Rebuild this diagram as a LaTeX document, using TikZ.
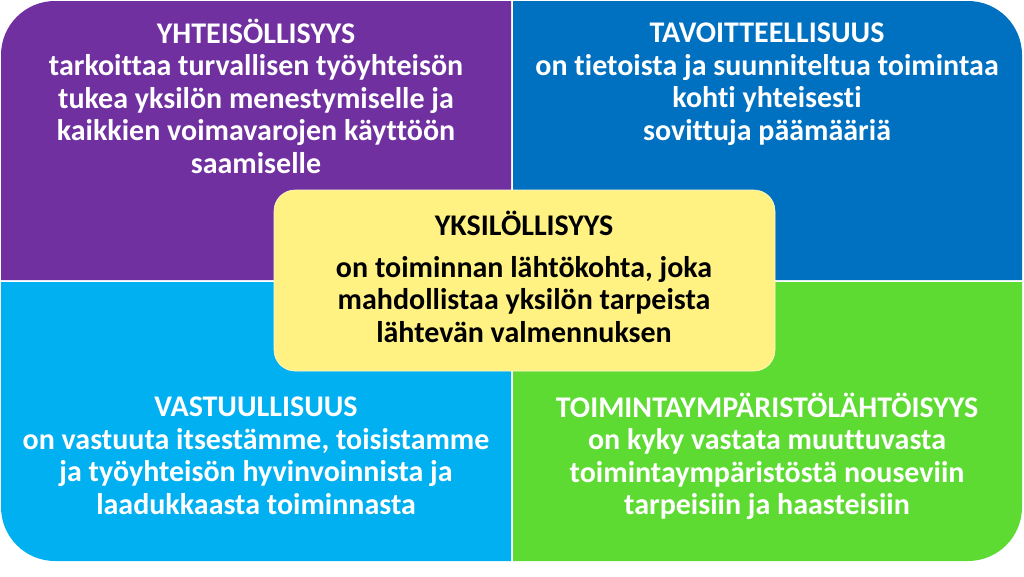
\documentclass[tikz,border=0pt]{standalone}
\usepackage{fontspec}
\setmainfont{Carlito}[Ligatures={NoCommon}]
\definecolor{cpurple}{HTML}{7030A0}
\definecolor{cblue}{HTML}{0070C0}
\definecolor{clight}{HTML}{00B0F0}
\definecolor{cgreen}{HTML}{5EDB33}
\definecolor{cyellow}{HTML}{FFF283}
\newcommand{\ls}{\rule[-9.75pt]{0pt}{32.5pt}}
\begin{document}
\begin{tikzpicture}[x=1pt,y=-1pt,
  quadtext/.style={text=white,align=center,font=\fontsize{30}{32.5}\selectfont\bfseries,inner sep=0pt},
  centertext/.style={text=black,align=center,font=\fontsize{30}{32.5}\selectfont\bfseries,inner sep=0pt}]
\useasboundingbox (0,0) rectangle (1024,576);
\fill[white] (0,0) rectangle (1024,576);
% quadrants
\fill[cpurple] (1,280) -- (1,55) arc[start angle=180,end angle=270,radius=54] -- (511,1) -- (511,280) -- cycle;
\fill[cblue] (513,1) -- (968,1) arc[start angle=270,end angle=360,radius=54] -- (1022,280) -- (513,280) -- cycle;
\fill[clight] (1,282) -- (511,282) -- (511,561) -- (55,561) arc[start angle=90,end angle=180,radius=54] -- cycle;
\fill[cgreen] (513,282) -- (1022,282) -- (1022,507) arc[start angle=0,end angle=90,radius=54] -- (513,561) -- cycle;
% center box
\node[draw=white!60!cyellow,line width=0.6pt,fill=cyellow,rounded corners=21pt,minimum width=501pt,minimum height=181pt,inner sep=0pt] (center) at (524.5,280.5) {};
% texts
\node[quadtext] (tl) at (256,101) {\ls YHTEISÖLLISYYS\\\ls tarkoittaa turvallisen työyhteisön\\\ls tukea yksilön menestymiselle ja\\\ls kaikkien voimavarojen käyttöön\\\ls saamiselle};
\node[quadtext] (tr) at (767,84.75) {\ls TAVOITTEELLISUUS\\\ls on tietoista ja suunniteltua toimintaa\\\ls kohti yhteisesti\\\ls sovittuja päämääriä};
\node[quadtext] (bl) at (256,458.75) {\ls VASTUULLISUUS\\\ls on vastuuta itsestämme, toisistamme\\\ls ja työyhteisön hyvinvoinnista ja\\\ls laadukkaasta toiminnasta};
\node[quadtext] (br) at (767,458.75) {\ls TOIMINTAYMPÄRISTÖLÄHTÖISYYS\\\ls on kyky vastata muuttuvasta\\\ls toimintaympäristöstä nouseviin\\\ls tarpeisiin ja haasteisiin};
\node[centertext] (ctitle) at (524,228) {\ls YKSILÖLLISYYS};
\node[centertext] (cbody) at (524,303) {\ls on toiminnan lähtökohta, joka\\\ls mahdollistaa yksilön tarpeista\\\ls lähtevän valmennuksen};
\end{tikzpicture}
\end{document}
